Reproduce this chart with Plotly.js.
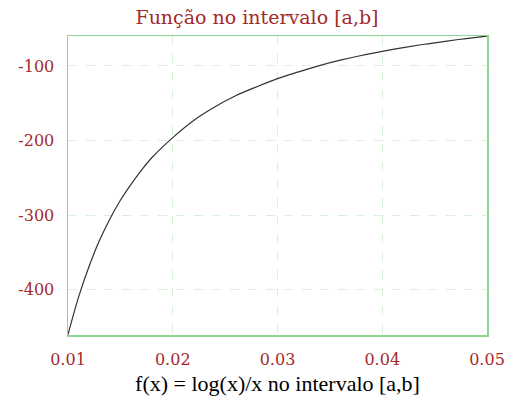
<!DOCTYPE html>
<html>
<head>
<meta charset="utf-8">
<script src="https://cdn.plot.ly/plotly-3.0.1.min.js"></script>
<style>html,body{margin:0;padding:0;background:#fff;}#chart{width:514px;height:396px;}</style>
</head>
<body>
<div id="chart"></div>
<script>
// values
const xValues = [0.010, 0.011, 0.012, 0.013, 0.014, 0.015, 0.016, 0.017, 0.018, 0.020, 0.022, 0.024, 0.026, 0.028, 0.030, 0.032, 0.034, 0.036, 0.038, 0.040, 0.042, 0.044, 0.046, 0.048, 0.050];
const yValues = [-460, -410, -369, -334, -305, -280, -259, -240, -223, -196, -173, -155, -140, -128, -117, -108, -99.5, -92.3, -86, -80.5, -75.5, -71, -67, -63.3, -60];
const xTicks = [0.01, 0.02, 0.03, 0.04, 0.05];
const xTickLabels = ['0.01', '0.02', '0.03', '0.04', '0.05'];
const yTicks = [-100, -200, -300, -400];
const yTickLabels = ['-100', '-200', '-300', '-400'];

const tickColor = '#a22a2a';
const gridColor = '#d8f2d8';
const frameColor = '#8fd68f';

const trace = {
  x: xValues, y: yValues, type: 'scatter', mode: 'lines',
  line: {color: '#333333', width: 1.2, shape: 'spline', smoothing: 1},
  hoverinfo: 'skip', cliponaxis: true
};

const layout = {
  width: 514, height: 396,
  margin: {l: 68, r: 27, t: 36, b: 61},
  paper_bgcolor: '#ffffff', plot_bgcolor: '#ffffff',
  showlegend: false,
  title: {
    text: 'Função no intervalo [a,b]',
    font: {family: 'DejaVu Serif', size: 19, color: tickColor},
    x: 0.5, xanchor: 'center', y: 0.955, yanchor: 'middle'
  },
  xaxis: {
    range: [0.01, 0.05],
    tickvals: xTicks, ticktext: xTickLabels,
    tickfont: {family: 'DejaVu Serif', size: 16, color: tickColor},
    ticks: '', ticklabelstandoff: 9,
    showgrid: true, gridcolor: gridColor, griddash: 'dash', gridwidth: 1,
    showline: true, linecolor: frameColor, linewidth: 1.5, mirror: true,
    zeroline: false, layer: 'above traces',
    title: {text: 'f(x) = log(x)/x no intervalo [a,b]', font: {family: 'Liberation Serif', size: 22, color: '#000000'}, standoff: 14}
  },
  yaxis: {
    range: [-460.5, -59.9],
    tickvals: yTicks, ticktext: yTickLabels,
    tickfont: {family: 'DejaVu Serif', size: 16, color: tickColor},
    ticks: '', ticklabelstandoff: 9,
    showgrid: true, gridcolor: gridColor, griddash: 'dash', gridwidth: 1,
    showline: true, linecolor: frameColor, linewidth: 1.5, mirror: true,
    zeroline: false, layer: 'above traces'
  }
};

Plotly.newPlot('chart', [trace], layout, {displayModeBar: false, staticPlot: true});
</script>
</body>
</html>
